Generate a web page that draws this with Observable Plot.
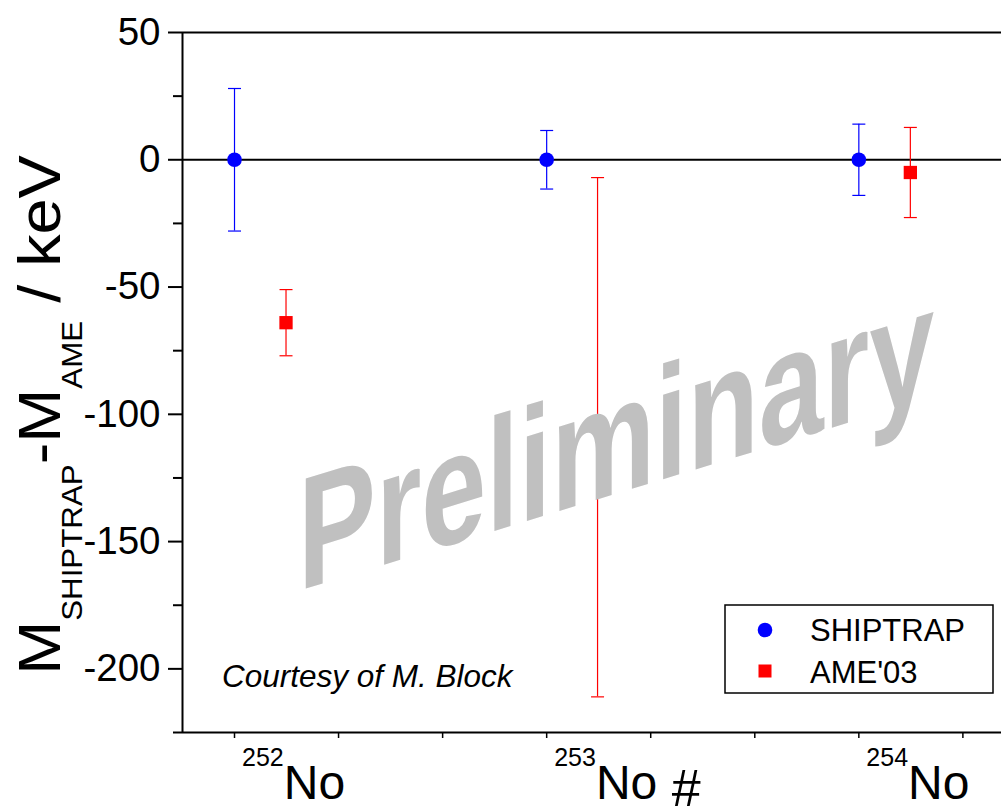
<!DOCTYPE html>
<html><head><meta charset="utf-8">
<script src="https://cdn.jsdelivr.net/npm/d3@7"></script>
<script src="https://cdn.jsdelivr.net/npm/@observablehq/plot@0.6"></script>
<style>
body{margin:0;background:#fff;}
#chart{position:relative;width:1001px;height:808px;}
</style>
</head><body><div id="chart"></div>
<script>
// ---- data ----
const massNumbers = [252, 253, 254];
const labelMarks = ["", "#", ""];
const shiptrapValue = [0, 0, 0];
const shiptrapError = [28, 11.5, 14];
const ameX = [252.165, 253.163, 254.165];
const ameValue = [-64, -109, -5];
const ameError = [13, 102, 17.7];
const yMajorTicks = [50, 0, -50, -100, -150, -200];
const yMinorTicks = [25, -25, -75, -125, -175, -225];
const xTicks = [252, 252.3333, 252.6667, 253, 253.3333, 253.6667, 254, 254.3333];
const xDomain = [251.8334, 254.457];
const yDomain = [-225, 50];
const seriesNames = ["SHIPTRAP", "AME'03"];

const shiptrap = massNumbers.map((m, i) => ({x: m, y: shiptrapValue[i], lo: shiptrapValue[i] - shiptrapError[i], hi: shiptrapValue[i] + shiptrapError[i]}));
const ame = massNumbers.map((m, i) => ({x: ameX[i], y: ameValue[i], lo: ameValue[i] - ameError[i], hi: ameValue[i] + ameError[i], sys: labelMarks[i] !== ""}));

const cap = {draw(ctx) { ctx.moveTo(-6.5, 0); ctx.lineTo(6.5, 0); }};
const FONT = "'Liberation Sans', Arial, sans-serif";

const chart = Plot.plot({
  width: 1001, height: 808,
  marginLeft: 182, marginRight: 0, marginTop: 32, marginBottom: 76,
  style: {fontFamily: FONT, background: "white", color: "black"},
  x: {domain: xDomain, label: null},
  y: {domain: yDomain, label: null},
  marks: [
    Plot.ruleY([0], {stroke: "black", strokeWidth: 2}),
    Plot.ruleY([yDomain[1]], {stroke: "black", strokeWidth: 2}),
    Plot.ruleY([yDomain[0]], {stroke: "black", strokeWidth: 2}),
    Plot.ruleX([xDomain[0]], {stroke: "black", strokeWidth: 2}),
    Plot.axisY(yMajorTicks, {tickSize: 14, tickPadding: 8, fontSize: 38.5, strokeWidth: 2, label: null, tickFormat: d => String(d)}),
    Plot.axisY(yMinorTicks, {tickSize: 9, tickFormat: () => "", strokeWidth: 2, label: null}),
    Plot.axisX(xTicks, {tickSize: 6, tickFormat: () => "", strokeWidth: 1.5, label: null}),
    Plot.ruleX(shiptrap, {x: "x", y1: "lo", y2: "hi", stroke: "#0000ff", strokeWidth: 1.2}),
    Plot.dot(shiptrap, {x: "x", y: "lo", symbol: cap, fill: "none", stroke: "#0000ff", strokeWidth: 1.2}),
    Plot.dot(shiptrap, {x: "x", y: "hi", symbol: cap, fill: "none", stroke: "#0000ff", strokeWidth: 1.2}),
    Plot.dot(shiptrap, {x: "x", y: "y", r: 7.3, symbol: "circle", fill: "#0000ff", stroke: "none"}),
    Plot.ruleX(ame, {x: "x", y1: "lo", y2: "hi", stroke: "#ff0000", strokeWidth: 1.2}),
    Plot.dot(ame, {x: "x", y: "lo", symbol: cap, fill: "none", stroke: "#ff0000", strokeWidth: 1.2}),
    Plot.dot(ame, {x: "x", y: "hi", symbol: cap, fill: "none", stroke: "#ff0000", strokeWidth: 1.2}),
    Plot.dot(ame, {filter: d => !d.sys, x: "x", y: "y", r: 7.5, symbol: "square", fill: "#ff0000", stroke: "none"})
  ]
});
document.getElementById("chart").appendChild(chart);

const svg = d3.select(chart);
const xs = chart.scale("x");

// x category labels with superscript mass numbers
massNumbers.forEach((m, i) => {
  const t = svg.append("text").attr("x", xs.apply(m) + 8).attr("y", 799)
    .attr("text-anchor", "start").attr("font-family", FONT).attr("fill", "black");
  t.append("tspan").attr("font-size", 25).attr("dy", -33).text(String(m));
  t.append("tspan").attr("font-size", 48).attr("dy", 33).text("No");
  if (labelMarks[i]) t.append("tspan").attr("font-size", 52).attr("dy", 7).text(" " + labelMarks[i]);
});

// y axis title with subscripts
const yl = svg.append("text").attr("transform", "translate(60,415) rotate(-90) scale(1.08,1)")
  .attr("text-anchor", "middle").attr("font-family", FONT).attr("fill", "black").attr("font-size", 60);
yl.append("tspan").text("M");
yl.append("tspan").attr("font-size", 29).attr("dy", 22).text("SHIPTRAP");
yl.append("tspan").attr("dy", -22).text("-M");
yl.append("tspan").attr("font-size", 29).attr("dy", 22).text("AME");
yl.append("tspan").attr("dy", -22).text(" / keV");

// courtesy note
svg.append("text").attr("x", 222).attr("y", 687).attr("text-anchor", "start").attr("font-family", FONT)
  .attr("font-style", "italic").attr("font-size", 31.5).attr("fill", "black").text("Courtesy of M. Block");

// watermark
svg.append("text").attr("transform", "translate(298,591) skewY(-17) scale(0.73,1)")
  .attr("text-anchor", "start").attr("font-family", FONT).attr("font-weight", "bold").attr("font-size", 160)
  .attr("fill", "#c0c0c0").text("Preliminary");

// legend
const lg = svg.append("g");
lg.append("rect").attr("x", 725).attr("y", 605).attr("width", 268).attr("height", 88)
  .attr("fill", "white").attr("stroke", "black").attr("stroke-width", 1.5);
lg.append("circle").attr("cx", 765).attr("cy", 630).attr("r", 7.3).attr("fill", "#0000ff");
lg.append("rect").attr("x", 758.5).attr("y", 664.5).attr("width", 13).attr("height", 13).attr("fill", "#ff0000");
lg.append("text").attr("x", 810).attr("y", 641).attr("text-anchor", "start").attr("font-family", FONT).attr("font-size", 31).attr("fill", "black").text(seriesNames[0]);
lg.append("text").attr("x", 810).attr("y", 683).attr("text-anchor", "start").attr("font-family", FONT).attr("font-size", 31).attr("fill", "black").text(seriesNames[1]);
</script>
</body></html>
